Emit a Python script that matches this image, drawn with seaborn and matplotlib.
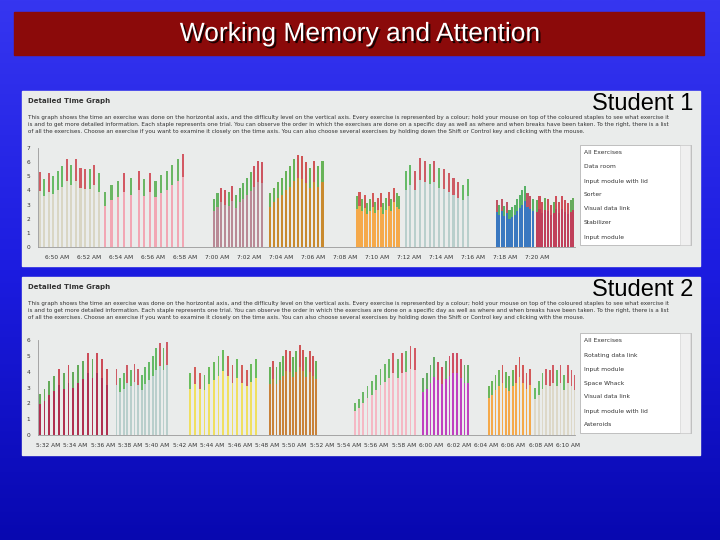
import numpy as np
import matplotlib
matplotlib.use("Agg")
import matplotlib.pyplot as plt
import seaborn as sns
import matplotlib.patheffects as pe
from matplotlib.colors import LinearSegmentedColormap

sns.set_style("white")

# ---------------- data ----------------
# Student 1: start minute (minutes after 6:00), end minute, body colour, values, results
s1_starts = [48.9, 53.0, 55.1, 59.8, 63.3, 68.75, 71.8, 77.5, 80.0]
s1_ends = [52.6, 54.6, 57.9, 62.8, 66.6, 71.4, 75.7, 79.75, 82.3]
s1_colors = ["#d9d6c4", "#f2a7b4", "#f2a7b4", "#b98a96", "#c98a2e", "#f5a94a", "#b9cfcc", "#3a78c0", "#c0405a"]
s1_values = [
    [5.3, 4.8, 5.2, 5.0, 5.4, 5.7, 6.2, 5.8, 6.2, 5.6, 5.5, 5.5, 5.8, 5.2],
    [3.9, 4.4, 4.7, 5.2, 4.9],
    [5.4, 4.8, 5.2, 4.7, 5.1, 5.4, 5.8, 6.2, 6.6],
    [3.4, 3.8, 4.2, 4.0, 3.9, 4.3, 3.7, 4.2, 4.5, 4.9, 5.3, 5.7, 6.1, 6.0],
    [3.8, 4.2, 4.6, 4.9, 5.4, 5.7, 6.2, 6.5, 6.4, 6.0, 5.6, 6.1, 5.7, 6.1],
    [3.6, 3.9, 3.4, 3.7, 3.1, 3.4, 3.8, 3.2, 3.5, 3.8, 3.1, 3.5, 3.9, 3.4, 4.2, 3.8, 3.6],
    [5.4, 5.8, 5.4, 6.3, 6.1, 5.9, 6.1, 5.6, 5.5, 5.2, 4.9, 4.6, 4.4, 4.8],
    [3.3, 3.0, 3.4, 2.9, 3.2, 2.6, 2.8, 3.0, 3.4, 3.7, 4.0, 4.3, 3.8, 3.6, 3.4],
    [3.3, 3.6, 3.2, 3.5, 3.4, 3.0, 3.2, 3.6, 3.2, 3.6, 3.3, 3.1, 3.3, 3.5],
]
s1_results = [
    "rgrgggrgrrrgrg", "gggrg", "rgrgggggr", "ggrrgrgggggrrr",
    "gggggggrrrgrgg", "grgrggrgrrggrgrgg", "ggrrrgrgrrrrgg", "rgrgrgggggggrrg", "grrgrrgrrrrrgg",
]
s1_ticks = list(range(50, 81, 2))
s1_ticklabels = ["6:50 AM", "6:52 AM", "6:54 AM", "6:56 AM", "6:58 AM", "7:00 AM", "7:02 AM", "7:04 AM",
                 "7:06 AM", "7:08 AM", "7:10 AM", "7:12 AM", "7:14 AM", "7:16 AM", "7:18 AM", "7:20 AM"]
s1_list = ["All Exercises", "Data room", "Input module with lid", "Sorter", "Visual data link", "Stabilizer", "Input module"]

# Student 2: minutes after 5:00
s2_starts = [31.4, 37.0, 42.4, 48.2, 54.4, 59.4, 64.2, 67.6]
s2_ends = [36.3, 40.7, 47.2, 51.6, 58.8, 62.7, 67.2, 70.5]
s2_colors = ["#b03050", "#b9cfcc", "#f0e060", "#c8823a", "#f5b8c4", "#c040c0", "#f5a94a", "#ddd8c8"]
s2_values = [
    [2.6, 2.9, 3.4, 3.7, 4.2, 3.9, 4.4, 4.0, 4.4, 4.7, 5.2, 4.8, 5.2, 4.8, 4.2],
    [4.2, 3.6, 3.9, 4.4, 4.1, 4.5, 4.2, 3.8, 4.3, 4.6, 5.0, 5.5, 5.8, 5.5, 5.9],
    [3.9, 4.3, 3.9, 3.8, 4.3, 4.6, 5.0, 5.4, 5.0, 4.4, 4.8, 4.4, 4.1, 4.5, 4.8],
    [4.3, 4.7, 4.3, 4.6, 5.0, 5.4, 5.3, 4.9, 5.3, 5.7, 5.4, 4.9, 5.3, 5.0, 4.7],
    [2.0, 2.3, 2.7, 3.1, 3.4, 3.8, 4.2, 4.5, 4.8, 5.2, 4.8, 5.2, 5.3, 5.6, 5.5],
    [3.6, 3.9, 4.4, 4.9, 4.6, 4.3, 4.7, 5.0, 5.2, 5.2, 4.8, 4.4, 4.4],
    [3.1, 3.4, 3.8, 4.1, 4.4, 4.0, 3.7, 4.1, 4.4, 4.9, 4.4, 3.9, 4.2],
    [3.0, 3.4, 3.9, 4.2, 4.1, 4.4, 4.1, 4.4, 3.8, 4.4, 4.1, 3.8],
]
s2_results = [
    "ggggrgrgggrgrrr", "rggrgrrgggggrgr", "grrgggggrrgrrgg", "grgggrrggrrgrrg",
    "gggggggggrgrgrr", "ggggrrgrrrrgg", "ggggrgggrrrrr", "gggrrrgrgrrr",
]
s2_ticks = list(range(32, 71, 2))
s2_ticklabels = ["5:32 AM", "5:34 AM", "5:36 AM", "5:38 AM", "5:40 AM", "5:42 AM", "5:44 AM", "5:46 AM",
                 "5:48 AM", "5:50 AM", "5:52 AM", "5:54 AM", "5:56 AM", "5:58 AM", "6:00 AM", "6:02 AM",
                 "6:04 AM", "6:06 AM", "6:08 AM", "6:10 AM"]
s2_list = ["All Exercises", "Rotating data link", "Input module", "Space Whack", "Visual data link", "Input module with lid", "Asteroids"]

DESC = ("This graph shows the time an exercise was done on the horizontal axis, and the difficulty level on the vertical axis. Every exercise is represented by a colour; hold your mouse on top of the coloured staples to see what exercise it\n"
        "is and to get more detailed information. Each staple represents one trial. You can observe the order in which the exercises are done on a specific day as well as where and when breaks have been taken. To the right, there is a list\n"
        "of all the exercises. Choose an exercise if you want to examine it closely on the time axis. You can also choose several exercises by holding down the Shift or Control key and clicking with the mouse.")

W, H = 720, 540
fig = plt.figure(figsize=(7.2, 5.4), dpi=100)

def box(x0, y0, x1, y1):
    return [x0 / W, 1 - y1 / H, (x1 - x0) / W, (y1 - y0) / H]

bg = fig.add_axes([0, 0, 1, 1])
grad = np.linspace(0, 1, 256)[:, None]
cmap = LinearSegmentedColormap.from_list("bg", ["#3636f0", "#1c1ce0", "#0808b0"])
bg.imshow(grad, aspect="auto", cmap=cmap, extent=[0, 1, 0, 1], origin="upper")
bg.set_xlim(0, 1); bg.set_ylim(0, 1); bg.axis("off")

bg.add_patch(plt.Rectangle((14 / W, 1 - 55 / H), 690 / W, 43 / H, color="#8b0a0a", transform=bg.transAxes))
bg.text(0.5, 1 - 34 / H, "Working Memory and Attention", color="white", fontsize=19, ha="center", va="center",
        family="Liberation Sans", path_effects=[pe.withSimplePatchShadow(offset=(1.5, -1.5), shadow_rgbFace="black", alpha=0.8)])

def panel(py0, py1, label, ax_y0, ax_y1, ymax, starts, ends, colors, values, results, ticks, ticklabels, xlim, items, lby0):
    bg.add_patch(plt.Rectangle((22 / W, 1 - py1 / H), 678 / W, (py1 - py0) / H, color="#eaeceb", transform=bg.transAxes))
    bg.text(28 / W, 1 - (py0 + 10) / H, "Detailed Time Graph", fontsize=5, weight="bold", color="#333333", va="center")
    bg.text(28 / W, 1 - (py0 + 24) / H, DESC, fontsize=4.1, color="#333333", va="top", linespacing=1.55)
    bg.text(693 / W, 1 - (py0 + 13) / H, label, fontsize=17, color="black", ha="right", va="center", family="Liberation Sans")
    ax = fig.add_axes(box(38, ax_y0, 575, ax_y1))
    ax.set_facecolor("none")
    for s, e, c, vals, res in zip(starts, ends, colors, values, results):
        t = s + np.arange(len(vals)) * (e - s) / max(len(vals) - 1, 1)
        v = np.array(vals)
        ax.bar(t, v, width=0.13, color=c, linewidth=0)
        tipc = ["#d0505a" if r == "r" else "#5cb85c" for r in res.ljust(len(vals), "g")[:len(vals)]]
        ax.bar(t, v * 0.25, bottom=v * 0.75, width=0.13, color=tipc, linewidth=0, alpha=0.9)
    ax.set_xlim(*xlim)
    ax.set_ylim(0, ymax)
    ax.set_yticks(range(ymax + 1))
    ax.set_xticks(ticks)
    ax.set_xticklabels(ticklabels)
    ax.tick_params(labelsize=4.2, colors="#333333", length=2, width=0.5)
    for sp in ["top", "right"]:
        ax.spines[sp].set_visible(False)
    for sp in ["left", "bottom"]:
        ax.spines[sp].set_color("#999999"); ax.spines[sp].set_linewidth(0.6)
    lb = box(580, lby0, 691, lby0 + 100)
    bg.add_patch(plt.Rectangle((lb[0], lb[1]), lb[2], lb[3], facecolor="white", edgecolor="#aaaaaa", lw=0.5, transform=bg.transAxes))
    bg.add_patch(plt.Rectangle((680 / W, lb[1]), 10 / W, lb[3], facecolor="#f0f0f0", edgecolor="#cccccc", lw=0.4, transform=bg.transAxes))
    for i, it in enumerate(items):
        bg.text(584 / W, 1 - (lby0 + 8 + i * 14) / H, it, fontsize=4.3, color="#333333", va="center")

panel(91, 266, "Student 1", 148, 247, 7, s1_starts, s1_ends, s1_colors, s1_values, s1_results,
      s1_ticks, s1_ticklabels, (48.8, 82.4), s1_list, 145)
panel(277, 455, "Student 2", 340, 435, 6, s2_starts, s2_ends, s2_colors, s2_values, s2_results,
      s2_ticks, s2_ticklabels, (31.27, 70.5), s2_list, 333)

fig.savefig("out.png", dpi=100)
